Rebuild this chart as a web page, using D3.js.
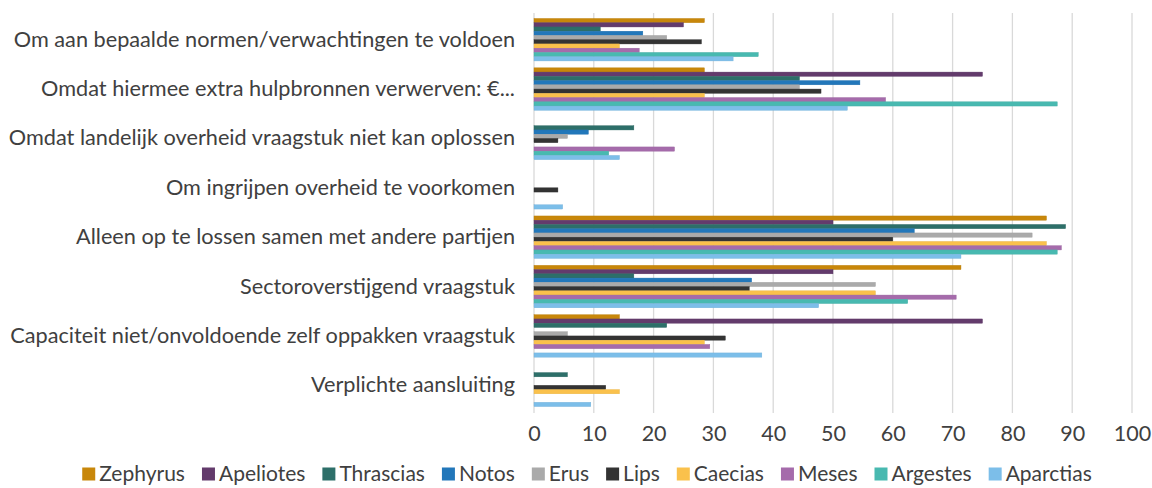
<!DOCTYPE html>
<html>
<head>
<meta charset="utf-8">
<script src="https://cdn.jsdelivr.net/npm/d3@7"></script>
<style>
  body { margin: 0; background: #fff; }
  text { font-family: Lato, "Open Sans", sans-serif; fill: #404040; }
</style>
</head>
<body>
<svg id="chart" width="1152" height="488"></svg>
<script>
// categories, top to bottom
var categories = [
  "Om aan bepaalde normen/verwachtingen te voldoen",
  "Omdat hiermee extra hulpbronnen verwerven: €...",
  "Omdat landelijk overheid vraagstuk niet kan oplossen",
  "Om ingrijpen overheid te voorkomen",
  "Alleen op te lossen samen met andere partijen",
  "Sectoroverstijgend vraagstuk",
  "Capaciteit niet/onvoldoende zelf oppakken vraagstuk",
  "Verplichte aansluiting"
];

var seriesNames = ["Zephyrus", "Apeliotes", "Thrascias", "Notos", "Erus", "Lips", "Caecias", "Meses", "Argestes", "Aparctias"];
var seriesColors = ["#c8870a", "#633b6c", "#2d6f69", "#2277ba", "#aaaaaa", "#333333", "#fac14c", "#a56bab", "#48b9b0", "#7cbee9"];

// one array per series, in category order
var zephyrus  = [28.5, 28.5, 0, 0, 85.7, 71.4, 14.3, 0];
var apeliotes = [25.0, 75.0, 0, 0, 50.0, 50.0, 75.0, 0];
var thrascias = [11.1, 44.4, 16.7, 0, 88.9, 16.7, 22.2, 5.6];
var notos     = [18.2, 54.5, 9.1, 0, 63.6, 36.4, 0, 0];
var erus      = [22.2, 44.4, 5.6, 0, 83.3, 57.1, 5.6, 0];
var lips      = [28.0, 48.0, 4.0, 4.0, 60.0, 36.0, 32.0, 12.0];
var caecias   = [14.3, 28.5, 0, 0, 85.7, 57.1, 28.5, 14.3];
var meses     = [17.6, 58.8, 23.5, 0, 88.2, 70.6, 29.4, 0];
var argestes  = [37.5, 87.5, 12.5, 0, 87.5, 62.5, 0, 0];
var aparctias = [33.3, 52.4, 14.3, 4.8, 71.4, 47.6, 38.1, 9.5];

var seriesValues = [zephyrus, apeliotes, thrascias, notos, erus, lips, caecias, meses, argestes, aparctias];
var xTicks = [0, 10, 20, 30, 40, 50, 60, 70, 80, 90, 100];

var svg = d3.select("#chart");
var margin = {left: 534, right: 20, top: 15, bottom: 78};
var width = 1152 - margin.left - margin.right;
var height = 488 - margin.top - margin.bottom;

var x = d3.scaleLinear().domain([0, 100]).range([margin.left, margin.left + 598]);
var y0 = d3.scaleBand().domain(categories).range([margin.top, margin.top + height]).paddingInner(0.14).paddingOuter(0.07);
var y1 = d3.scaleBand().domain(seriesNames).range([0, y0.bandwidth()]);

// gridlines
svg.append("g").selectAll("line")
  .data(xTicks)
  .enter().append("line")
  .attr("x1", function(d){ return x(d); })
  .attr("x2", function(d){ return x(d); })
  .attr("y1", margin.top - 2)
  .attr("y2", margin.top + height + 3)
  .attr("stroke", "#d9d9d9")
  .attr("stroke-width", 1.3);

// bars
var groups = svg.append("g").selectAll("g")
  .data(categories)
  .enter().append("g")
  .attr("transform", function(d){ return "translate(0," + y0(d) + ")"; });

groups.selectAll("rect")
  .data(function(c, ci){
    return seriesNames.map(function(s, si){ return {s: s, v: seriesValues[si][ci], color: seriesColors[si]}; });
  })
  .enter().append("rect")
  .attr("x", x(0))
  .attr("y", function(d){ return y1(d.s); })
  .attr("width", function(d){ return x(d.v) - x(0); })
  .attr("height", y1.bandwidth())
  .attr("fill", function(d){ return d.color; })
  .attr("stroke", function(d){ return d.v > 0 ? d3.color(d.color).darker(0.2) : "none"; })
  .attr("stroke-width", 0.4);

// category labels
var yAxis = d3.axisLeft(y0).tickSize(0).tickPadding(19);
var yg = svg.append("g").attr("transform", "translate(" + x(0) + ",0)").call(yAxis);
yg.select(".domain").remove();
yg.selectAll("text").style("font-size", "21.7px").attr("fill", "#404040");

// x axis labels
var xAxis = d3.axisBottom(x).tickValues(xTicks).tickSize(0).tickPadding(0);
var xg = svg.append("g").attr("transform", "translate(0,426)").call(xAxis);
xg.select(".domain").remove();
xg.selectAll("text").style("font-size", "21.5px").attr("fill", "#595959");

// legend
var legend = svg.append("g").attr("transform", "translate(0,474)");
var items = legend.selectAll("g")
  .data(seriesNames)
  .enter().append("g");
items.append("rect")
  .attr("width", 13).attr("height", 13)
  .attr("y", -6.5)
  .attr("fill", function(d, i){ return seriesColors[i]; });
items.append("text")
  .attr("x", 17)
  .attr("dy", "0.35em")
  .style("font-size", "21px")
  .attr("fill", "#404040")
  .text(function(d){ return d; });

var pos = 0;
var offsets = [];
items.each(function(){
  offsets.push(pos);
  pos += this.getBBox().width + 17;
});
var total = pos - 17;
var start = 587 - total / 2;
items.attr("transform", function(d, i){ return "translate(" + (start + offsets[i]) + ",0)"; });
</script>
</body>
</html>
